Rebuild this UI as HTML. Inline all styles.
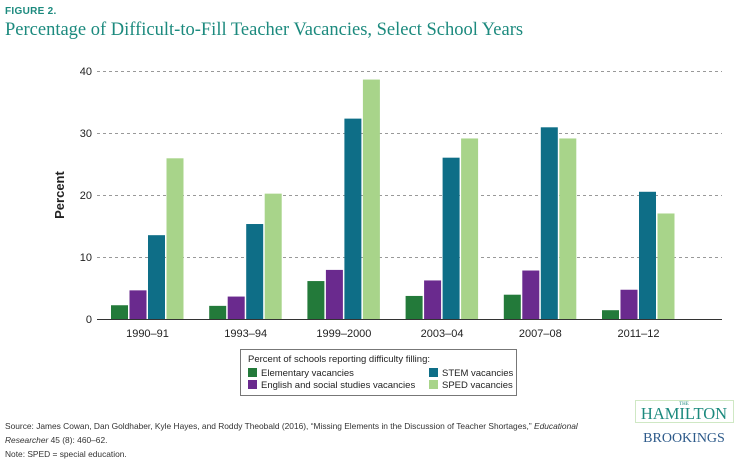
<!DOCTYPE html><html><head><style>
body{margin:0;width:750px;height:470px;background:#fff;position:relative;font-family:"Liberation Sans",sans-serif;overflow:hidden}
.a{position:absolute}
</style></head><body>
<div class="a" style="left:5px;top:6px;font-size:10px;font-weight:bold;color:#1c8a7e;letter-spacing:.3px">FIGURE 2.</div>
<div class="a" style="left:5px;top:20px;font-family:'Liberation Serif',serif;font-size:18.5px;color:#1c8a7e">Percentage of Difficult-to-Fill Teacher Vacancies, Select School Years</div>
<svg class="a" style="left:0;top:0" width="750" height="470">
<g stroke="#999" stroke-dasharray="3,3" stroke-width="1">
<line x1="97" x2="722" y1="71.5" y2="71.5"/><line x1="97" x2="722" y1="133.5" y2="133.5"/><line x1="97" x2="722" y1="195.5" y2="195.5"/><line x1="97" x2="722" y1="257.5" y2="257.5"/>
</g>
<g font-size="11" text-anchor="end" fill="#222"><text x="92" y="75">40</text><text x="92" y="137">30</text><text x="92" y="199">20</text><text x="92" y="261">10</text><text x="92" y="323">0</text></g>
<text x="64" y="195" font-size="13" font-weight="bold" text-anchor="middle" transform="rotate(-90 64 195)" fill="#222">Percent</text>
<g id="bars"></g>
<line x1="97" x2="722" y1="319.5" y2="319.5" stroke="#333"/>
<g font-size="11" text-anchor="middle" fill="#222" id="lab"></g>
<rect x="240.5" y="349.5" width="276" height="46" fill="none" stroke="#777"/>
<text x="248" y="362" font-size="9.5" fill="#222">Percent of schools reporting difficulty filling:</text>
<rect x="248" y="368" width="9" height="9" fill="#237a3a"/><text x="261" y="376" font-size="9.5" fill="#222">Elementary vacancies</text>
<rect x="248" y="380" width="9" height="9" fill="#6a2a8e"/><text x="261" y="388" font-size="9.5" fill="#222">English and social studies vacancies</text>
<rect x="429" y="368" width="9" height="9" fill="#0e6e87"/><text x="442" y="376" font-size="9.5" fill="#222">STEM vacancies</text>
<rect x="429" y="380" width="9" height="9" fill="#a8d48a"/><text x="442" y="388" font-size="9.5" fill="#222">SPED vacancies</text>
<text x="5" y="429" font-size="8.4" fill="#333">Source: James Cowan, Dan Goldhaber, Kyle Hayes, and Roddy Theobald (2016), “Missing Elements in the Discussion of Teacher Shortages,” <tspan font-style="italic">Educational</tspan></text>
<text x="5" y="443" font-size="8.4" fill="#333"><tspan font-style="italic">Researcher</tspan> 45 (8): 460–62.</text>
<text x="5" y="457" font-size="8.4" fill="#333">Note: SPED = special education.</text>
<rect x="635.5" y="400.5" width="98" height="22" fill="none" stroke="#cfe8c4"/>
<text x="684" y="405" font-size="5" text-anchor="middle" fill="#1c8a7e" font-family="Liberation Serif">THE</text>
<text x="684" y="419" font-size="16.5" text-anchor="middle" fill="#1c8a7e" font-family="Liberation Serif">HAMILTON</text>
<text x="684" y="442" font-size="14" text-anchor="middle" fill="#2d5a8a" font-family="Liberation Serif">BROOKINGS</text>
</svg>
<script>
var d=[[2.3,4.7,13.6,26],[2.2,3.7,15.4,20.3],[6.2,8.0,32.4,38.7],[3.8,6.3,26.1,29.2],[4.0,7.9,31.0,29.2],[1.5,4.8,20.6,17.1]];
var L=["1990–91","1993–94","1999–2000","2003–04","2007–08","2011–12"];
var c=["#237a3a","#6a2a8e","#0e6e87","#a8d48a"];
var s="",t="";
d.forEach(function(g,i){var x0=111+i*98.2;g.forEach(function(v,j){var h=v*6.2;s+='<rect x="'+(x0+j*18.5)+'" y="'+(319.5-h)+'" width="17" height="'+h+'" fill="'+c[j]+'"/>';});t+='<text x="'+(x0+36.5)+'" y="337">'+L[i]+'</text>';});
document.getElementById("bars").innerHTML=s;document.getElementById("lab").innerHTML=t;
</script>
</body></html>
